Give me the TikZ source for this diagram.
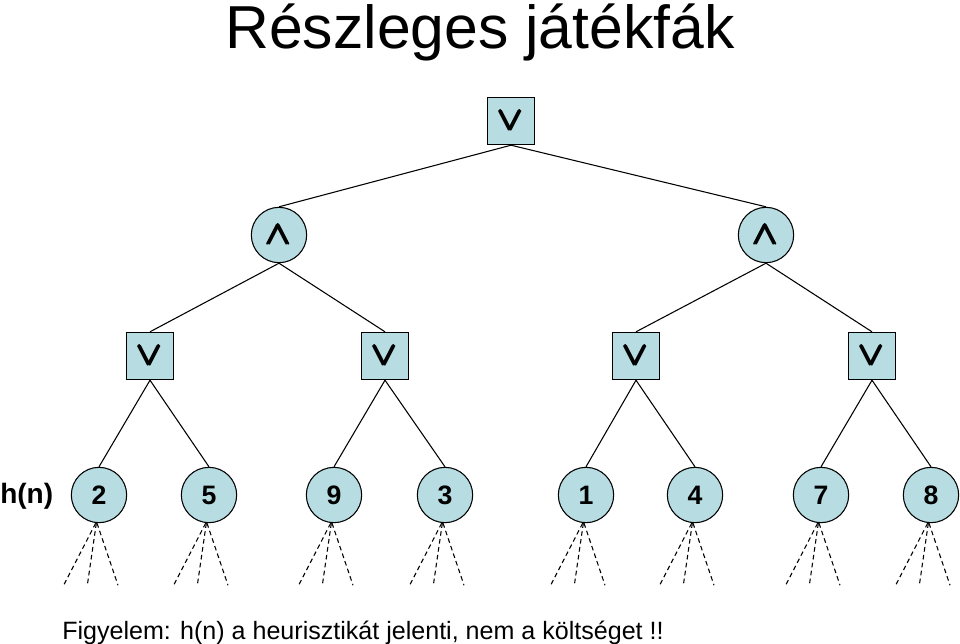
\documentclass[tikz,border=0pt]{standalone}
\usepackage{amsmath}
\usepackage{fontspec}
\setmainfont{Liberation Sans}
\usetikzlibrary{positioning}
\definecolor{nodeblue}{RGB}{183,221,226}
\newcommand{\orsym}{$\pmb{\vee}$}
\newcommand{\andsym}{$\pmb{\wedge}$}

\begin{document}
\begin{tikzpicture}[x=0.75pt,y=-0.75pt]
		\tikzstyle{every node}=[font=\fontsize{20}{22}\selectfont\bfseries]
		\tikzstyle{maxbox}=[draw, fill=nodeblue, line width=0.8pt, minimum size=35.5pt, inner sep=0pt, font=\fontsize{23}{24}\selectfont\boldmath]
		\tikzstyle{minball}=[draw, circle, fill=nodeblue, line width=0.8pt, minimum size=41.5pt, inner sep=0pt, font=\fontsize{23}{24}\selectfont\boldmath]
		\tikzstyle{leafball}=[draw, circle, fill=nodeblue, line width=0.8pt, minimum size=41.5pt, inner sep=0pt]
		\tikzstyle{edge}=[line width=0.8pt]
		\tikzstyle{fanline}=[line width=0.8pt, dash pattern=on 3.5pt off 2.5pt]
		\useasboundingbox (0,0) rectangle (960,643);
		% title and notes
		\node [font=\fontsize{45.5}{48}\selectfont, anchor=base, inner sep=0pt] (title) at (480,48) {Részleges játékfák};
		\node [font=\fontsize{21}{22}\selectfont\bfseries, anchor=base west, inner sep=0pt] (hlabel) at (0,503) {h(n)};
		\node [font=\fontsize{18.8}{20}\selectfont, anchor=base west, inner sep=0pt] (note) at (62,639) {Figyelem: h(n) a heurisztikát jelenti, nem a költséget !!};
		% tree
		\node [maxbox] (root) at (511,121) {\orsym};
		\node [minball] (l) at (279,235) {\andsym};
		\node [minball] (r) at (766,235) {\andsym};
		\node [maxbox] (ll) at (150,356) {\orsym};
		\node [maxbox] (lr) at (385,356) {\orsym};
		\node [maxbox] (rl) at (636,356) {\orsym};
		\node [maxbox] (rr) at (872,356) {\orsym};
		\node [leafball] (a) at (99,495) {2};
		\node [leafball] (b) at (209,495) {5};
		\node [leafball] (c) at (334,495) {9};
		\node [leafball] (d) at (445,495) {3};
		\node [leafball] (e) at (586,495) {1};
		\node [leafball] (f) at (695,495) {4};
		\node [leafball] (g) at (821,495) {7};
		\node [leafball] (h) at (931,495) {8};
		\draw [edge] (root.south) -- (l.north);
		\draw [edge] (root.south) -- (r.north);
		\draw [edge] (l.south) -- (ll.north);
		\draw [edge] (l.south) -- (lr.north);
		\draw [edge] (r.south) -- (rl.north);
		\draw [edge] (r.south) -- (rr.north);
		\draw [edge] (ll.south) -- (a.north);
		\draw [edge] (ll.south) -- (b.north);
		\draw [edge] (lr.south) -- (c.north);
		\draw [edge] (lr.south) -- (d.north);
		\draw [edge] (rl.south) -- (e.north);
		\draw [edge] (rl.south) -- (f.north);
		\draw [edge] (rr.south) -- (g.north);
		\draw [edge] (rr.south) -- (h.north);
		% unexplored subtrees
		\foreach \n in {a,b,c,d,e,f,g,h} {
			\draw [fanline] ([xshift=-2.5pt]\n.south) -- ++(-32,62);
			\draw [fanline] ([xshift=-2pt]\n.south) -- ++(-9,62);
			\draw [fanline] ([xshift=-1.5pt]\n.south) -- ++(21,62);
		}
	\end{tikzpicture}
\end{document}
